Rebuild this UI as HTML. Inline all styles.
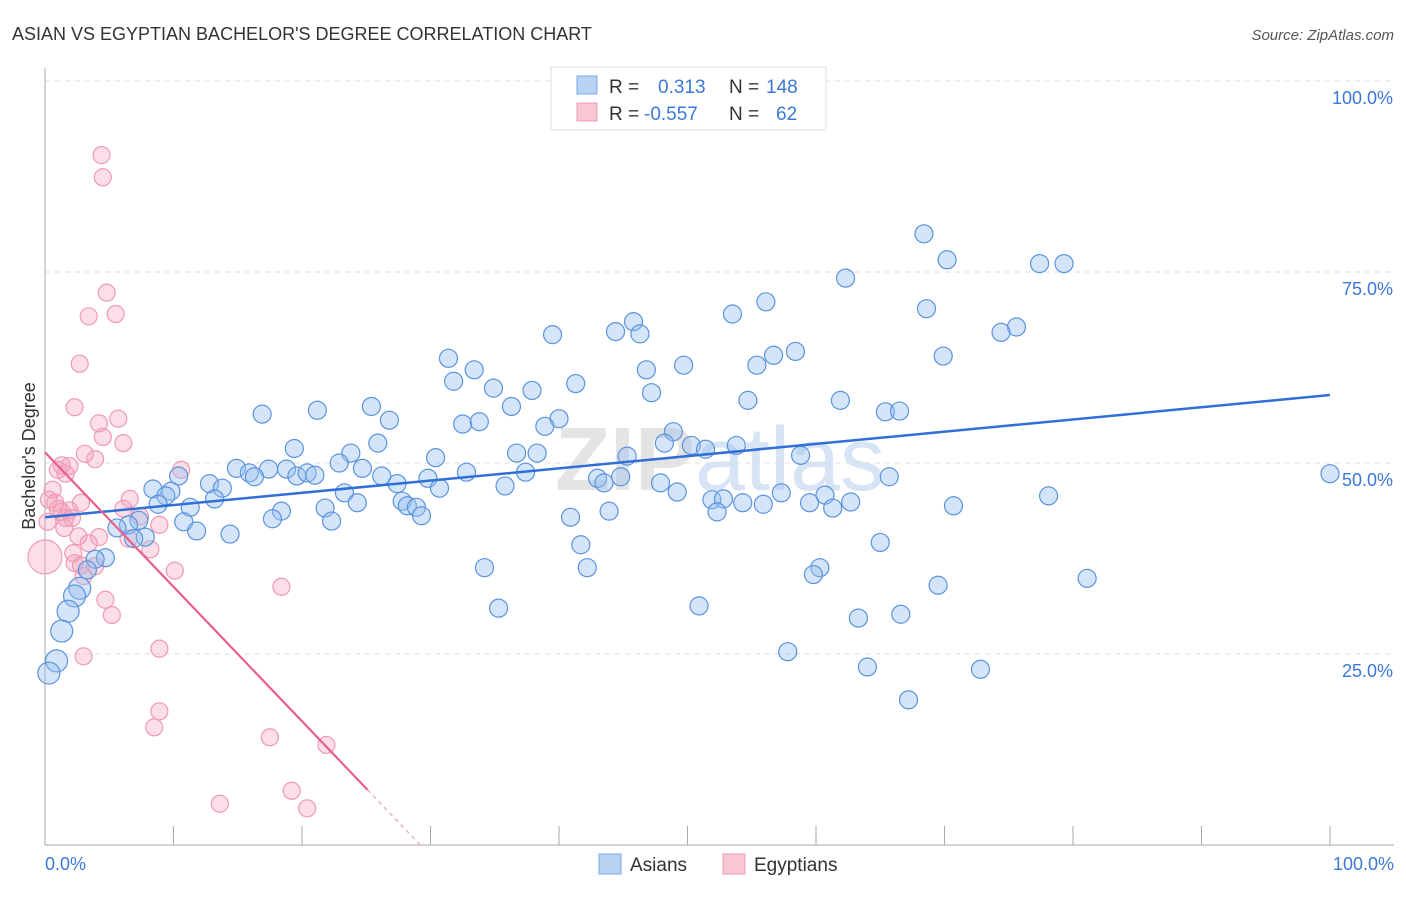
<!DOCTYPE html>
<html><head><meta charset="utf-8"><style>
body{margin:0;background:#fff;font-family:"Liberation Sans",sans-serif;}
svg text{font-family:"Liberation Sans",sans-serif;}
</style></head><body>
<svg width="1406" height="892" viewBox="0 0 1406 892">
<text x="12" y="40" font-size="18" fill="#333">ASIAN VS EGYPTIAN BACHELOR'S DEGREE CORRELATION CHART</text>
<text x="1394" y="40" font-size="15" fill="#555" text-anchor="end" font-style="italic">Source: ZipAtlas.com</text>
<text x="720" y="490" font-size="90" fill="#e4e4e4" text-anchor="middle" font-weight="bold">ZIP<tspan font-weight="normal" fill="#d6e4f5">atlas</tspan></text>
<g id="grid"></g><g id="axes"></g><g id="pink"></g><g id="blue"></g><g id="lines"></g>
<text x="35" y="456" font-size="18" fill="#333" text-anchor="middle" transform="rotate(-90 35 456)">Bachelor's Degree</text>
<text x="45" y="870" font-size="18" fill="#3b78d8">0.0%</text>
<text x="1394" y="870" font-size="18" fill="#3b78d8" text-anchor="end">100.0%</text>
<g>
<rect x="551" y="67" width="275" height="63" fill="#fff" stroke="#ddd"/>
<rect x="577" y="76" width="20" height="18" fill="#b9d3f5" stroke="#7aa7e6"/>
<rect x="577" y="103" width="20" height="18" fill="#f9c6d4" stroke="#ee9ab2"/>
<text x="609" y="93" font-size="19" fill="#333">R =</text>
<text x="658" y="93" font-size="19" fill="#3b78d8">0.313</text>
<text x="729" y="93" font-size="19" fill="#333">N =</text>
<text x="766" y="93" font-size="19" fill="#3b78d8">148</text>
<text x="609" y="120" font-size="19" fill="#333">R =</text>
<text x="644" y="120" font-size="19" fill="#3b78d8">-0.557</text>
<text x="729" y="120" font-size="19" fill="#333">N =</text>
<text x="776" y="120" font-size="19" fill="#3b78d8">62</text>
</g>
<g>
<rect x="599" y="854" width="22" height="20" fill="#b9d3f5" stroke="#7aa7e6"/>
<text x="630" y="871" font-size="19" fill="#333">Asians</text>
<rect x="723" y="854" width="22" height="20" fill="#f9c6d4" stroke="#ee9ab2"/>
<text x="754" y="871" font-size="19" fill="#333">Egyptians</text>
</g>
</svg>
<script>
const yTicks=[25,50,75,100];
const yTickLabels=["25.0%","50.0%","75.0%","100.0%"];
const xTicks=[0,10,20,30,40,50,60,70,80,90,100];
const asianX=[68.4,70.2,77.4,79.3,62.3,56.1,53.5,68.6,75.6,74.4,45.8,44.4,46.3,39.5,58.4,56.7,69.9,31.4,55.4,49.7,33.4,46.8,31.8,41.3,34.9,37.9,47.2,54.7,61.9,25.4,36.3,21.2,16.9,65.4,66.5,26.8,40.0,32.5,33.8,38.9,48.9,48.2,50.3,51.4,53.8,19.4,25.9,23.8,36.7,38.3,30.4,58.8,22.9,45.3,14.9,15.9,17.4,18.8,24.7,19.6,20.4,21.0,16.3,26.2,32.8,37.4,29.8,10.4,27.4,43.0,43.5,44.8,65.7,100,12.8,13.8,8.4,9.8,9.4,30.7,35.8,47.9,49.2,23.3,57.3,60.7,78.1,27.8,24.3,13.2,8.8,11.3,51.9,52.8,54.3,55.9,59.5,61.3,62.7,70.7,28.2,28.9,21.8,18.4,29.3,43.9,52.3,17.7,22.3,40.9,10.8,7.3,6.5,5.6,11.8,14.4,7.8,6.9,65.0,41.7,4.7,3.9,34.2,60.3,59.8,42.2,81.1,3.3,69.5,2.7,2.3,35.3,50.9,1.8,63.3,66.6,1.3,57.8,0.9,64.0,72.8,0.3,67.2];
const asianY=[80.0,76.6,76.1,76.1,74.2,71.1,69.5,70.2,67.8,67.1,68.5,67.2,66.9,66.8,64.6,64.1,64.0,63.7,62.8,62.8,62.2,62.2,60.7,60.4,59.8,59.5,59.2,58.2,58.2,57.4,57.4,56.9,56.4,56.7,56.8,55.6,55.8,55.1,55.4,54.8,54.1,52.6,52.3,51.8,52.3,51.9,52.6,51.3,51.3,51.3,50.7,51.0,50.0,50.9,49.3,48.7,49.2,49.2,49.3,48.3,48.7,48.4,48.2,48.3,48.8,48.8,48.0,48.3,47.3,48.0,47.4,48.2,48.2,48.6,47.3,46.7,46.6,46.3,45.7,46.7,47.0,47.4,46.2,46.1,46.1,45.8,45.7,45.0,44.8,45.3,44.6,44.2,45.2,45.3,44.8,44.6,44.8,44.1,44.9,44.4,44.4,44.2,44.1,43.7,43.1,43.7,43.6,42.7,42.4,42.9,42.3,42.5,41.9,41.5,41.1,40.7,40.3,40.1,39.6,39.3,37.6,37.4,36.3,36.3,35.4,36.3,34.9,36.0,34.0,33.6,32.6,31.0,31.3,30.6,29.7,30.2,28.0,25.3,24.1,23.3,23.0,22.5,19.0];
const egyX=[4.4,4.5,4.8,5.5,3.4,2.7,2.3,5.7,4.2,4.5,6.1,3.9,3.1,1.3,1.9,1.6,10.6,0.6,0.3,0.8,2.8,1.0,1.3,1.9,6.6,6.1,1.6,2.1,0.2,7.4,8.9,1.5,2.6,4.2,3.4,6.5,2.2,8.2,2.3,2.8,3.9,3.0,10.1,0,18.4,4.7,5.2,3.0,8.9,8.9,8.5,17.5,21.9,13.6,19.2,20.4,1.0];
const egyY=[90.3,87.4,72.3,69.5,69.2,63.0,57.3,55.8,55.2,53.4,52.6,50.5,51.2,49.7,49.6,48.6,49.1,46.5,45.2,44.8,44.8,44.0,43.6,43.8,45.3,44.0,42.8,42.8,42.3,43.0,41.9,41.5,40.4,40.3,39.5,40.1,38.2,38.7,36.9,36.6,36.5,35.2,35.9,37.7,33.8,32.1,30.1,24.7,25.7,17.5,15.4,14.1,13.1,5.4,7.1,4.8,49.1];
const asianTrend=[42.9,58.9];
const egyTrend=[51.4,-1.76];
const NS="http://www.w3.org/2000/svg";
const X=v=>45+v*12.85, Y=v=>845-v*7.64;
function mk(p,t,a){const e=document.createElementNS(NS,t);for(const k in a)e.setAttribute(k,a[k]);document.getElementById(p).appendChild(e);return e;}
yTicks.forEach((t,i)=>{
 const l=mk('grid','line',{x1:45,x2:1394,y1:Y(t),y2:Y(t),stroke:'#ddd','stroke-dasharray':'5,5'});
 
 
 const tx=mk('grid','text',{x:1393,y:Y(t)+23,'font-size':18,fill:'#3b78d8','text-anchor':'end'});
 tx.textContent=yTickLabels[i];
 
 
});
const ax=mk('axes','line',{x1:45,x2:45,y1:68,y2:845,stroke:'#aaa'});


const bx=mk('axes','line',{x1:45,x2:1394,y1:845,y2:845,stroke:'#aaa'});


xTicks.forEach(t=>{
 const k=mk('axes','line',{x1:X(t),x2:X(t),y1:826,y2:845,stroke:'#aaa'});
 
 
});
egyX.forEach((x,i)=>{
 const c=mk('pink','circle',{cx:X(x),cy:Y(egyY[i]),r:x===0?17:8.5,fill:'rgba(244,160,186,0.35)',stroke:'#ef9ab3','stroke-width':1.2});
 
 
});
asianX.forEach((x,i)=>{
 const r=x<3?11:9;
 const c=mk('blue','circle',{cx:X(x),cy:Y(asianY[i]),r:r,fill:'rgba(150,190,240,0.4)',stroke:'#5b93dd','stroke-width':1.2});
 
 
});
const bl=mk('lines','line',{x1:X(0),y1:Y(asianTrend[0]),x2:X(100),y2:Y(asianTrend[1]),stroke:'#2f6fd6','stroke-width':2.5});


const xEnd=25.1, xZero=-egyTrend[0]/egyTrend[1];
const pl=mk('lines','line',{x1:X(0),y1:Y(egyTrend[0]),x2:X(xEnd),y2:Y(egyTrend[0]+egyTrend[1]*xEnd),stroke:'#e8608c','stroke-width':2.2});


const pd=mk('lines','line',{x1:X(xEnd),y1:Y(egyTrend[0]+egyTrend[1]*xEnd),x2:X(xZero),y2:Y(0),stroke:'#e8a0b8','stroke-width':1.2,'stroke-dasharray':'4,4'});


</script>
</body></html>
